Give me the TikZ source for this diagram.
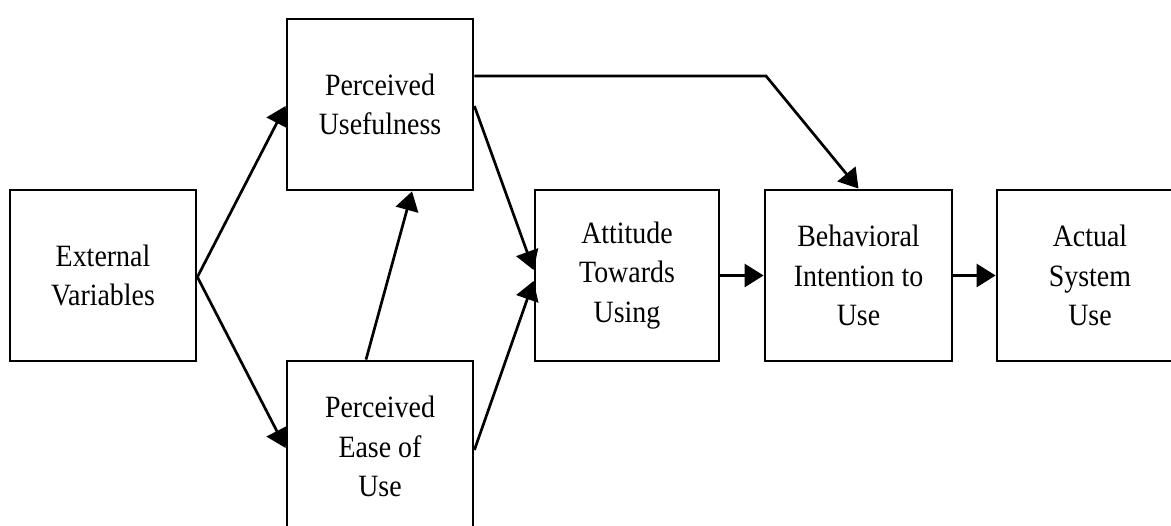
\documentclass[tikz,border=0pt]{standalone}
\usepackage{fontspec}
\setmainfont{Liberation Serif}[FakeStretch=0.9]
\usetikzlibrary{arrows.meta}
\begin{document}
\begin{tikzpicture}[x=1pt,y=-1pt,
  box/.style={draw=black, line width=2.8pt, rectangle, minimum width=186pt, minimum height=171pt, inner sep=0pt, align=center, font=\fontsize{31}{39.7}\selectfont},
  conn/.style={line width=2.7pt, -{Triangle[length=19pt,width=23pt]}}]
\useasboundingbox (0,0) rectangle (1171,526);
\node[box] (ev)  at (103,275.5) {External\\Variables};
\node[box] (pu)  at (380,104.5) {Perceived\\Usefulness};
\node[box] (peu) at (380,446.5) {Perceived\\Ease of\\Use};
\node[box, minimum width=184pt] (att) at (627,275.5) {Attitude\\Towards\\Using};
\node[box, minimum width=187pt] (bi)  at (858.5,275.5) {Behavioral\\Intention to\\Use};
\node[box] (au)  at (1090,275.5) {Actual\\System\\Use};
\coordinate (bend) at (766,76);
\draw[conn] ([yshift=-1.5pt]ev.east) -- ([yshift=-1.5pt]pu.west);
\draw[conn] ([yshift=-1.5pt]ev.east) -- ([yshift=-1.5pt]peu.west);
\draw[conn] ([xshift=-14pt]peu.north) -- ([xshift=32pt]pu.south);
\draw[conn] ([yshift=-1.5pt]pu.east) -- ([yshift=5.5pt]att.west);
\draw[conn] ([yshift=-3.5pt]peu.east) -- ([yshift=-5.5pt]att.west);
\draw[conn] (att.east) -- (bi.west);
\draw[conn] (bi.east) -- (au.west);
\draw[conn] ([yshift=28.5pt]pu.east) -- (bend) -- (bi.north);
\end{tikzpicture}
\end{document}
